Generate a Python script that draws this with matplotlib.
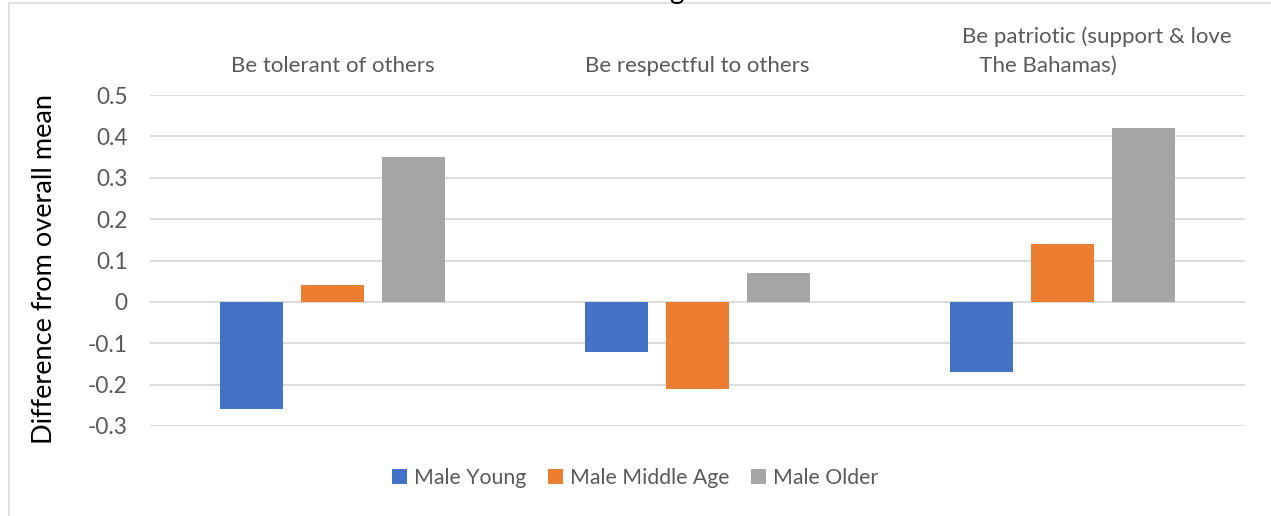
import numpy as np
import matplotlib.pyplot as plt
import matplotlib.transforms as mtransforms
from matplotlib.patches import Rectangle

plt.rcParams['font.family'] = ['Lato', 'DejaVu Sans']

# values
categories = ["Be tolerant of others", "Be respectful to others",
              "Be patriotic (support & love\n   The Bahamas)"]
series_names = ["Male Young", "Male Middle Age", "Male Older"]
male_young = [-0.26, -0.12, -0.17]
male_middle = [0.04, -0.21, 0.14]
male_older = [0.35, 0.07, 0.42]
yticks = [-0.3, -0.2, -0.1, 0, 0.1, 0.2, 0.3, 0.4, 0.5]
ytick_labels = ["-0.3", "-0.2", "-0.1", "0", "0.1", "0.2", "0.3", "0.4", "0.5"]

colors = ["#4472C4", "#ED7D31", "#A5A5A5"]
grey_text = "#595959"

fig = plt.figure(figsize=(12.71, 5.16), dpi=100)
ax = fig.add_axes([150 / 1271, 1 - 426 / 516, 1095 / 1271, 331 / 516])

# chart border (only top and left edges are inside the canvas)
fig.patches.append(Rectangle((9 / 1271, -0.2), 1.2, 1.2 - 3 / 516, transform=fig.transFigure,
                             fill=False, edgecolor="#D9D9D9", linewidth=1.2, zorder=0))

x = np.arange(len(categories))
width = 0.1726
step = 0.222
for i, (vals, name) in enumerate(zip([male_young, male_middle, male_older], series_names)):
    ax.bar(x + (i - 1) * step, vals, width, color=colors[i], label=name, zorder=3)

ax.set_xlim(-0.5, 2.5)
ax.set_ylim(-0.3, 0.5)
ax.set_yticks(yticks)
ax.set_yticklabels(ytick_labels)
ax.grid(axis="y", color="#D9D9D9", linewidth=1.3, zorder=0)
for s in ax.spines.values():
    s.set_visible(False)

ax.xaxis.tick_top()
ax.set_xticks(x)
ax.set_xticklabels(categories)
ax.tick_params(axis="x", length=0, pad=14, labelsize=16, labelcolor=grey_text)
ax.tick_params(axis="y", length=0, pad=16, labelsize=16.3, labelcolor=grey_text)

lbl = ax.get_xticklabels()[2]
lbl.set_horizontalalignment("left")
lbl.set_multialignment("left")
lbl.set_linespacing(1.55)
lbl.set_transform(lbl.get_transform() + mtransforms.ScaledTranslation(-1.01, 0, fig.dpi_scale_trans))

fig.text(44 / 1271, 1 - 269 / 516, "Difference from overall mean", rotation=90,
         ha="center", va="center", fontsize=19.5, color="black",
         bbox=dict(boxstyle="square,pad=0.75", facecolor="white", edgecolor="none"))

# chart title, mostly above the canvas
fig.text(676 / 1271, 1 + 1 / 516, "g", ha="center", va="baseline", fontsize=20, color="black")

fig.legend(loc="center", bbox_to_anchor=(635 / 1271, 1 - 478 / 516), ncol=3, frameon=False,
           fontsize=15.3, labelcolor=grey_text, handlelength=0.7, handleheight=0.7,
           handletextpad=0.35, columnspacing=1.0)

fig.savefig("out.png", dpi=100)
